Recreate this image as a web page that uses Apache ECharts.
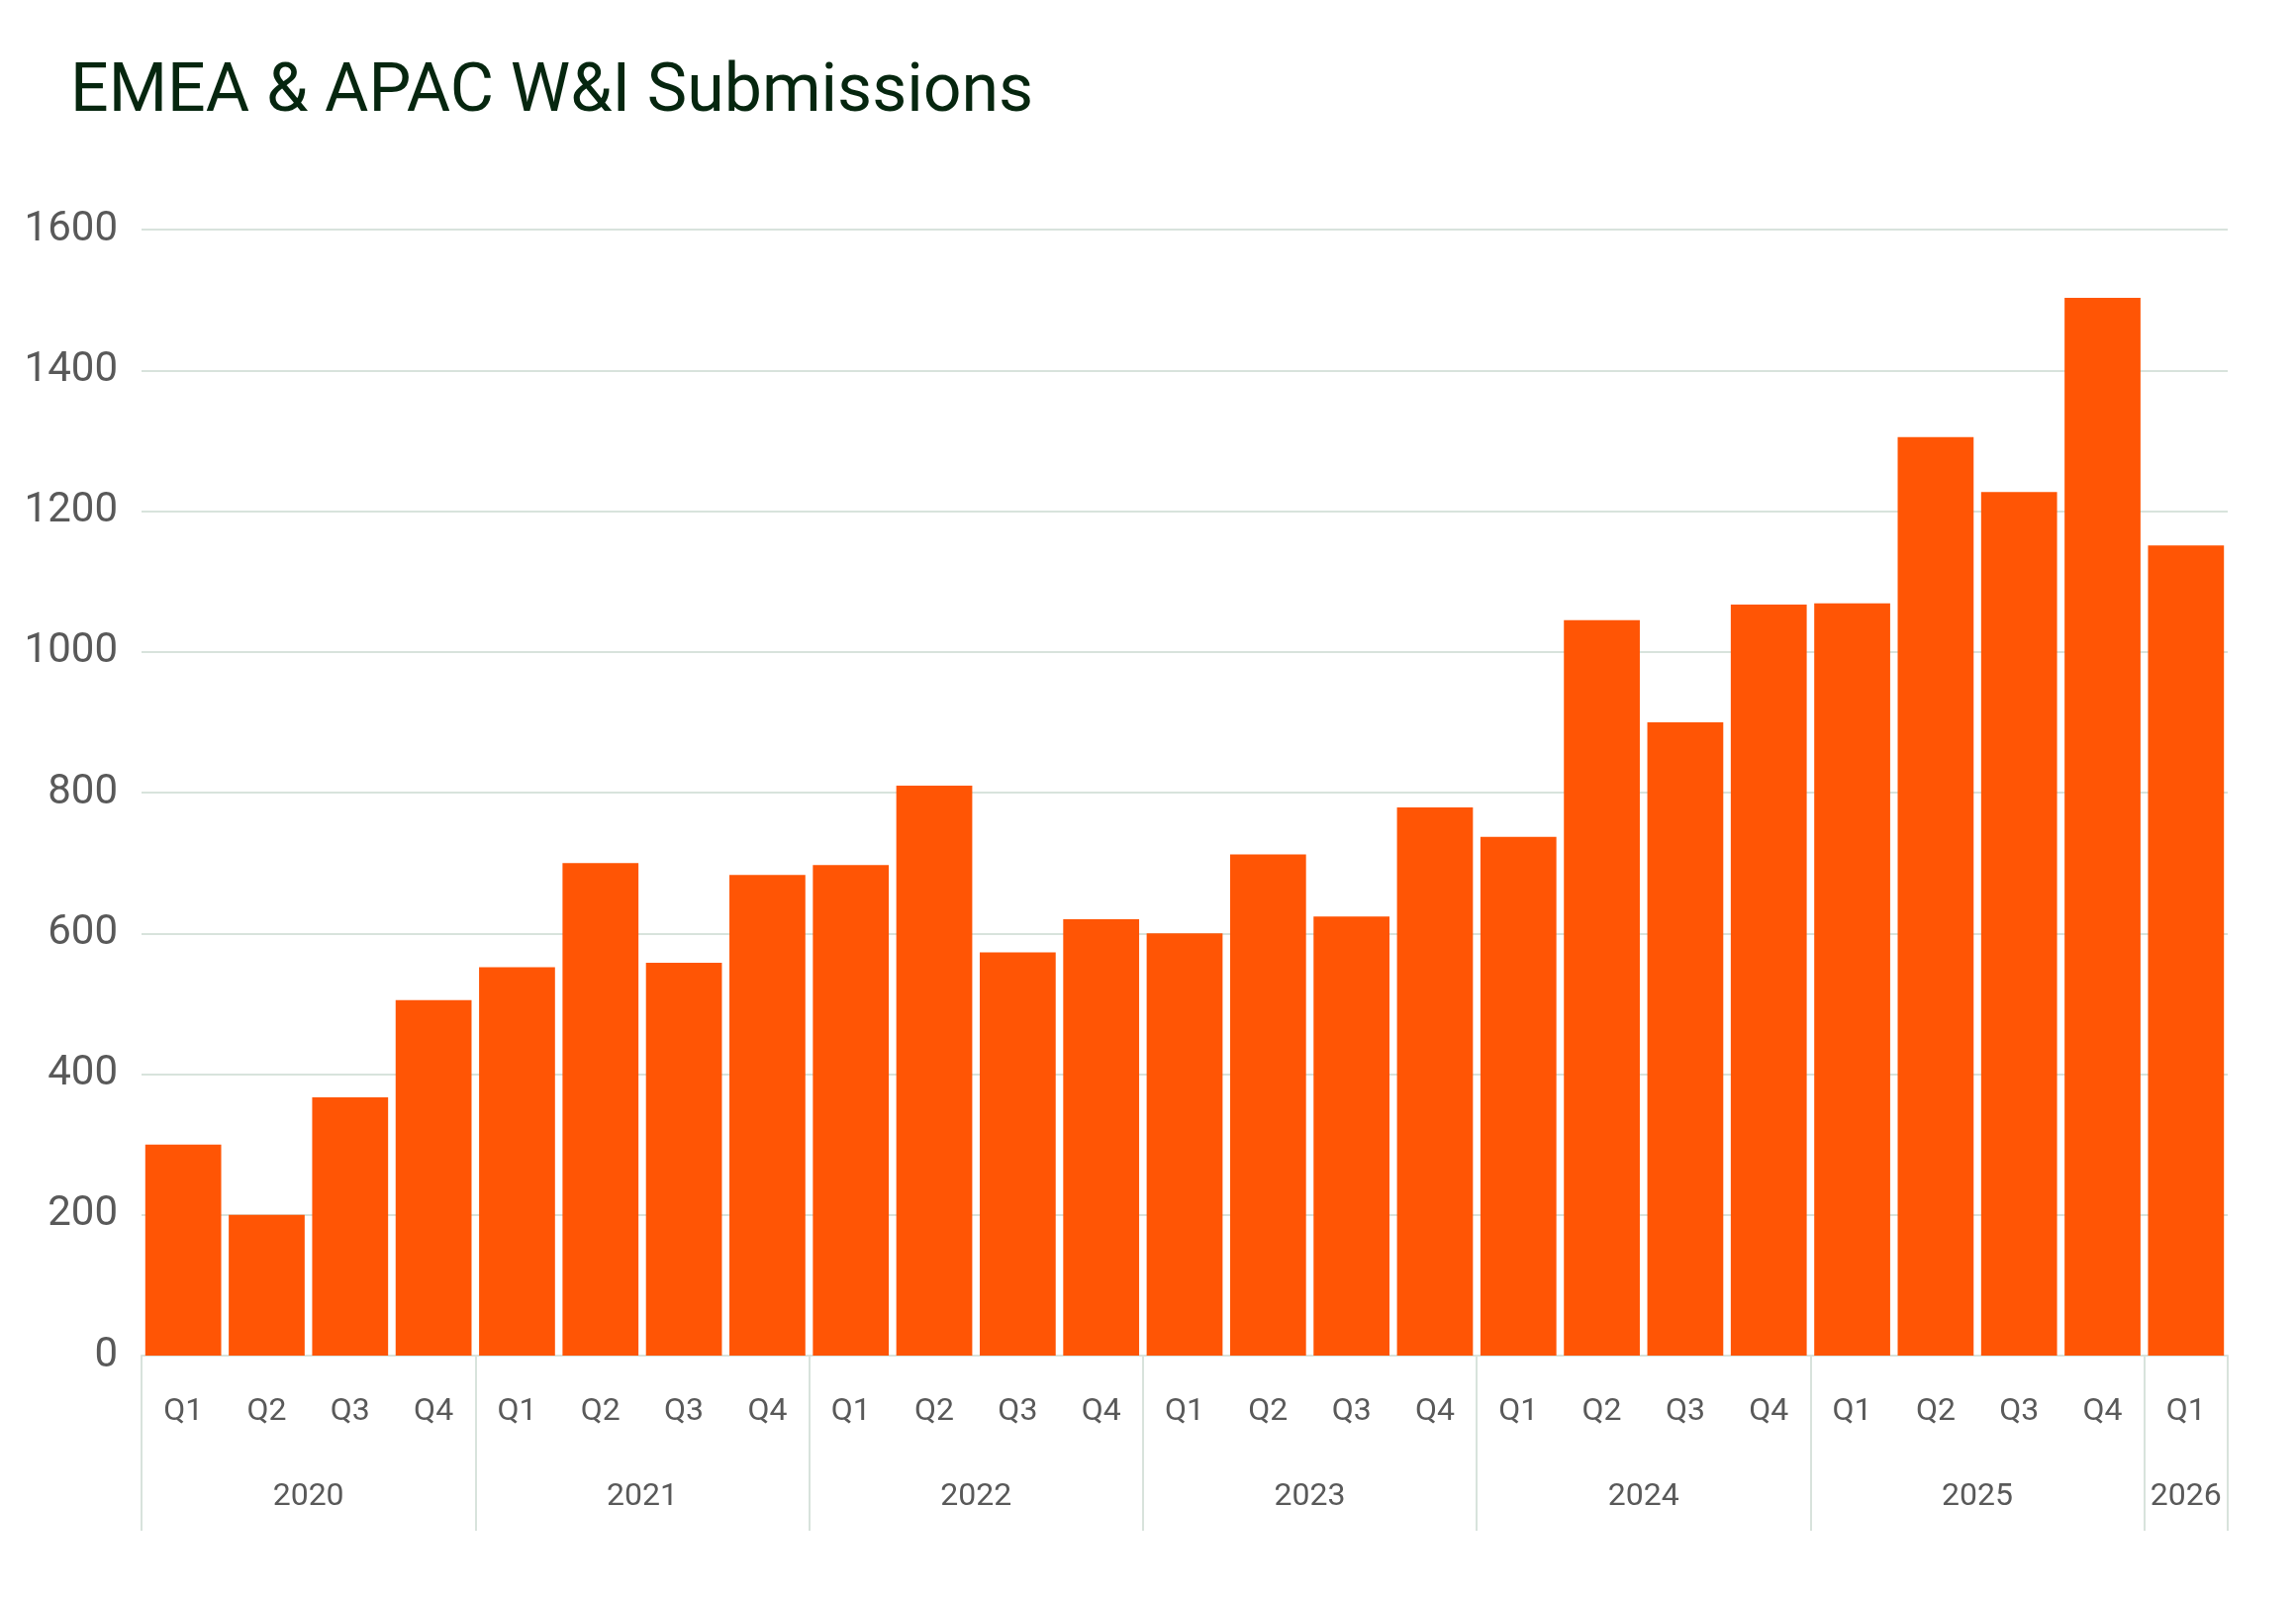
<!DOCTYPE html>
<html>
<head>
<meta charset="utf-8">
<title>EMEA & APAC W&I Submissions</title>
<script src="https://cdn.jsdelivr.net/npm/echarts@6/dist/echarts.min.js"></script>
<style>
  html, body { margin: 0; padding: 0; background: #fff; }
  #main { width: 2320px; height: 1617px; }
</style>
</head>
<body>
<div id="main"></div>
<script>
// datos
var years = ['2020', '2021', '2022', '2023', '2024', '2025', '2026'];
var quartersPerYear = [4, 4, 4, 4, 4, 4, 1];
var quarterNames = ['Q1', 'Q2', 'Q3', 'Q4'];
var submissions = [
  300, 200, 367, 505,
  552, 700, 558, 683,
  697, 810, 573, 620,
  600, 712, 624, 779,
  737, 1045, 900, 1067,
  1069, 1305, 1227, 1503,
  1151
];
var yMin = 0, yMax = 1600, yStep = 200;

var font = 'Roboto, "Liberation Sans", sans-serif';
var gridColor = '#d8e3dc';
var labelColor = '#595959';

// categorias trimestrales y comienzo de cada año
var categories = [];
var yearStarts = [];
years.forEach(function (y, i) {
  yearStarts.push(categories.length);
  for (var q = 0; q < quartersPerYear[i]; q++) {
    categories.push(y + ' ' + quarterNames[q]);
  }
});

// eje de años: medios pasos para centrar la etiqueta de cada año
var halfSteps = [];
var yearLabelAt = {};
for (var h = 0; h <= categories.length * 2; h++) halfSteps.push(String(h));
years.forEach(function (y, i) {
  yearLabelAt[yearStarts[i] * 2 + quartersPerYear[i]] = y;
});

var myChart = echarts.init(document.getElementById('main'));
window.onresize = function () {
  myChart.resize();
};

var option = {
  backgroundColor: '#ffffff',
  title: {
    text: 'EMEA & APAC W&I Submissions',
    left: 66,
    top: 56,
    textStyle: {
      fontFamily: font,
      fontSize: 68,
      fontWeight: 'normal',
      color: '#06260f'
    }
  },
  grid: {
    left: 143,
    right: 69,
    top: 232,
    bottom: 247,
    containLabel: false,
    outerBoundsMode: 'none'
  },
  xAxis: [
    {
      type: 'category',
      data: categories,
      position: 'bottom',
      axisLine: { lineStyle: { color: gridColor, width: 2 } },
      axisTick: {
        show: true,
        length: 177,
        interval: function (index) {
          return yearStarts.indexOf(index) !== -1;
        },
        lineStyle: { color: gridColor, width: 2 }
      },
      axisLabel: {
        interval: 0,
        margin: 41,
        fontFamily: font,
        fontSize: 32,
        color: labelColor,
        formatter: function (v) {
          return v.split(' ')[1];
        }
      }
    },
    {
      type: 'category',
      data: halfSteps,
      position: 'bottom',
      boundaryGap: false,
      axisLine: { show: false },
      axisTick: { show: false },
      splitLine: { show: false },
      axisLabel: {
        interval: 0,
        margin: 127,
        fontFamily: font,
        fontSize: 32,
        color: labelColor,
        formatter: function (v) {
          return yearLabelAt[v] || '';
        }
      }
    }
  ],
  yAxis: {
    type: 'value',
    min: yMin,
    max: yMax,
    interval: yStep,
    axisLine: { show: false },
    axisTick: { show: false },
    splitLine: { lineStyle: { color: gridColor, width: 2 } },
    axisLabel: {
      margin: 24,
      fontFamily: font,
      fontSize: 42,
      color: labelColor,
      formatter: function (v) {
        return String(v);
      }
    }
  },
  series: [
    {
      name: 'Submissions',
      type: 'bar',
      xAxisIndex: 0,
      data: submissions,
      barCategoryGap: '9%',
      itemStyle: { color: '#ff5505' }
    }
  ]
};

option && myChart.setOption(option);
</script>
</body>
</html>
